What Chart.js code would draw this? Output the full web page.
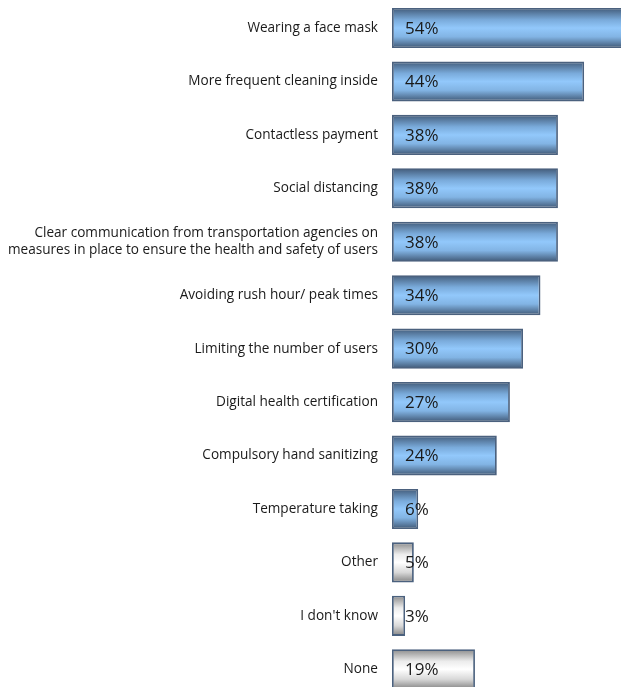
<!DOCTYPE html>
<html>
<head>
<meta charset="utf-8">
<script src="https://cdn.jsdelivr.net/npm/chart.js@4"></script>
<style>
  html, body { margin: 0; padding: 0; background: #fff; overflow: hidden; }
  #wrap { width: 660px; height: 697px; }
</style>
</head>
<body>
<div id="wrap"><canvas id="myChart"></canvas></div>
<script>
const labels = [
  'Wearing a face mask',
  'More frequent cleaning inside',
  'Contactless payment',
  'Social distancing',
  ['Clear communication from transportation agencies on', 'measures in place to ensure the health and safety of users'],
  'Avoiding rush hour/ peak times',
  'Limiting the number of users',
  'Digital health certification',
  'Compulsory hand sanitizing',
  'Temperature taking',
  'Other',
  "I don't know",
  'None'
];
const values = [54, 44, 38, 38, 38, 34, 30, 27, 24, 6, 5, 3, 19];
// last three answers are shown in grey
const isGrey = [false, false, false, false, false, false, false, false, false, false, true, true, true];

// vertical gradient per bar, built from the y scale
function barFill(ctx) {
  const chart = ctx.chart;
  const y = chart.scales.y;
  if (!y || y.top === undefined) return '#8fc3f5';
  const c = y.getPixelForValue(ctx.dataIndex);
  const h = 40;
  const g = chart.ctx.createLinearGradient(0, c - h / 2, 0, c + h / 2);
  if (isGrey[ctx.dataIndex]) {
    g.addColorStop(0, '#8a8a8a');
    g.addColorStop(0.3, '#ececec');
    g.addColorStop(0.5, '#ffffff');
    g.addColorStop(0.75, '#d8d8d8');
    g.addColorStop(1, '#828282');
  } else {
    g.addColorStop(0, '#425b79');
    g.addColorStop(0.3, '#7aabdb');
    g.addColorStop(0.5, '#92c8fb');
    g.addColorStop(0.72, '#82b4e4');
    g.addColorStop(1, '#3f5774');
  }
  return g;
}

// percent labels inside the bars
const valueLabels = {
  id: 'valueLabels',
  afterDatasetsDraw(chart) {
    const { ctx } = chart;
    const meta = chart.getDatasetMeta(0);
    ctx.save();
    ctx.font = '17px "Open Sans", sans-serif';
    ctx.fillStyle = '#1a1a1a';
    ctx.textAlign = 'left';
    ctx.textBaseline = 'middle';
    meta.data.forEach((bar, i) => {
      ctx.fillText(values[i] + '%', bar.base + 13, bar.y + 1);
    });
    ctx.restore();
  }
};

const config = {
  type: 'bar',
  data: {
    labels,
    datasets: [{
      data: values,
      backgroundColor: barFill,
      borderColor: '#4b617e',
      borderWidth: 1.8,
      borderSkipped: false,
      barPercentage: 0.75,
      categoryPercentage: 1
    }]
  },
  options: {
    indexAxis: 'y',
    responsive: true,
    maintainAspectRatio: false,
    animation: false,
    layout: { padding: { top: 1.3, bottom: 1, right: 6, left: 0 } },
    plugins: {
      legend: { display: false },
      tooltip: { enabled: false }
    },
    scales: {
      x: {
        display: false,
        min: 0,
        max: 60
      },
      y: {
        grid: { display: false },
        border: { display: false },
        afterFit(scale) {
          scale.width = 392;
          scale.paddingTop = 0;
          scale.paddingBottom = 0;
        },
        ticks: {
          color: '#1a1a1a',
          padding: 6,
          font: { family: '"Open Sans", sans-serif', size: 13.6 }
        }
      }
    }
  },
  plugins: [valueLabels]
};

const myChart = new Chart(document.getElementById('myChart'), config);
</script>
</body>
</html>
